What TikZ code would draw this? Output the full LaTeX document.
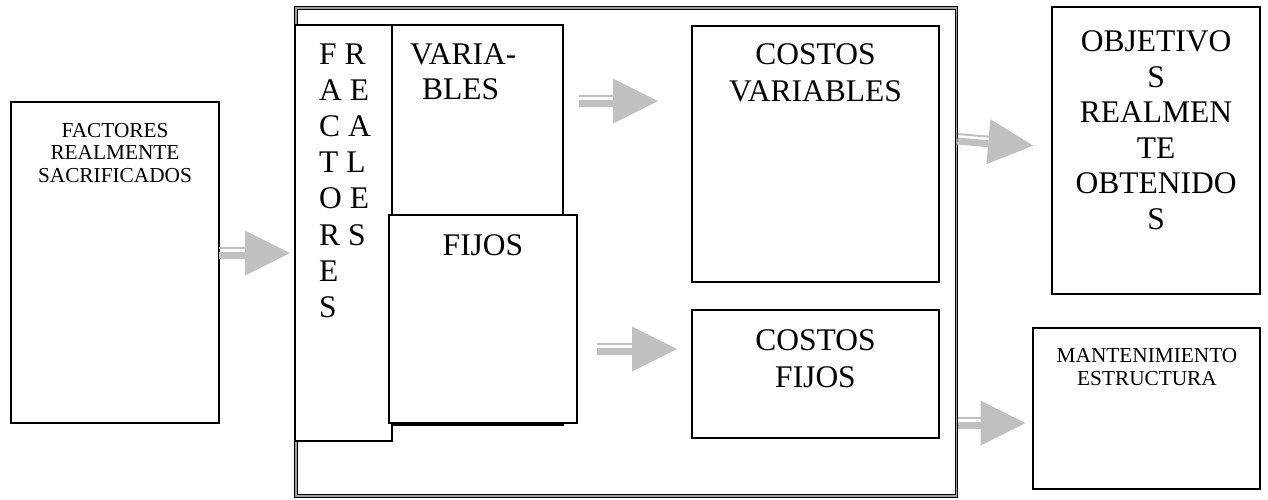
\documentclass[tikz,border=0pt]{standalone}
\usepackage{fontspec}
\setmainfont{Liberation Serif}
\usetikzlibrary{calc}

\definecolor{arrowgray}{RGB}{192,192,192}
\definecolor{framegray}{RGB}{160,160,160}

\newcommand\smalltext{\fontsize{21.3}{22.4}\selectfont}
\newcommand\bigtext{\fontsize{31.5}{36.2}\selectfont}

% grey block arrow: two stripes for the shaft and a triangular head
% #1 start point, #2 shaft length, #3 rotation
\newcommand\stripedarrow[3]{%
  \begin{scope}[shift={#1}, rotate=#3]
    \fill[arrowgray] (0,-6) rectangle (#2,-4);
    \fill[arrowgray] (0,-1.5) rectangle (#2,5.5);
    \fill[arrowgray] (#2,-22.5) -- ({#2+45},0) -- (#2,22.5) -- cycle;
  \end{scope}}

% multi-line texts are placed by the baseline of their last line
\tikzset{
  box/.style={draw=black, line width=1.5pt, fill=white, inner sep=0pt,
    outer sep=0pt, anchor=north west},
  bigframe/.style={draw=black, line width=0.9pt, double=framegray,
    double distance=1.6pt, inner sep=0pt, outer sep=0pt, anchor=north west},
  txt/.style={inner sep=0pt, anchor=base, align=center},
  txtleft/.style={inner sep=0pt, anchor=base west, align=left},
}

\begin{document}
\begin{tikzpicture}[x=1pt, y=-1pt]
  \useasboundingbox (0,0) rectangle (1268,499);

  % outer frame holding the cost structure
  \node[bigframe, minimum width=660.5pt, minimum height=488pt] (frame) at (296,8) {};

  % input box
  \node[box, minimum width=208pt, minimum height=321pt] (left) at (11,102) {};
  \node[txt, font=\smalltext] (lefttxt) at (115,182)
    {FACTORES\\REALMENTE\\SACRIFICADOS};

  % real factors, split into variable and fixed
  \node[box, minimum width=97pt, minimum height=416pt] (fr) at (295,25) {};
  \node[txtleft, font=\bigtext] (frtxt) at (319,317.4)
    {F R\\A E\\C A\\T L\\O E\\R S\\E\\S};
  \node[box, minimum width=171pt, minimum height=400pt] (var) at (392,25) {};
  \node[txtleft, font=\fontsize{31.5}{35}\selectfont] (vartxt) at (410,99)
    {VARIA-\\\hspace*{12pt}BLES};
  \node[box, minimum width=188pt, minimum height=208pt] (fijos) at (389,215) {};
  \node[txt, font=\bigtext] (fijostxt) at (483,255) {FIJOS};

  % cost boxes
  \node[box, minimum width=247pt, minimum height=256pt] (cv) at (692,26) {};
  \node[txt, font=\fontsize{31.5}{37}\selectfont] (cvtxt) at (815.5,101)
    {COSTOS\\VARIABLES};
  \node[box, minimum width=247pt, minimum height=128pt] (cf) at (692,310) {};
  \node[txt, font=\fontsize{31.5}{37}\selectfont] (cftxt) at (815.5,387)
    {COSTOS\\FIJOS};

  % results
  \node[box, minimum width=208pt, minimum height=287pt] (obj) at (1052,7) {};
  \node[txt, font=\fontsize{31.5}{35.5}\selectfont] (objtxt) at (1156,229)
    {OBJETIVO\\S\\REALMEN\\TE\\OBTENIDO\\S};
  \node[box, minimum width=227pt, minimum height=161pt] (mant) at (1033,328) {};
  \node[txt, font=\smalltext] (manttxt) at (1147,385)
    {MANTENIMIENTO\\ESTRUCTURA};

  % arrows
  \stripedarrow{($(left.north east)+(0,151)$)}{26}{0}
  \stripedarrow{($(var.north east)+(16,76)$)}{34}{0}
  \stripedarrow{($(fijos.north east)+(20,134)$)}{35}{0}
  \stripedarrow{($(frame.north east)+(1,131)$)}{31}{-5}
  \stripedarrow{($(frame.north east)+(1,415)$)}{23}{0}
\end{tikzpicture}
\end{document}
